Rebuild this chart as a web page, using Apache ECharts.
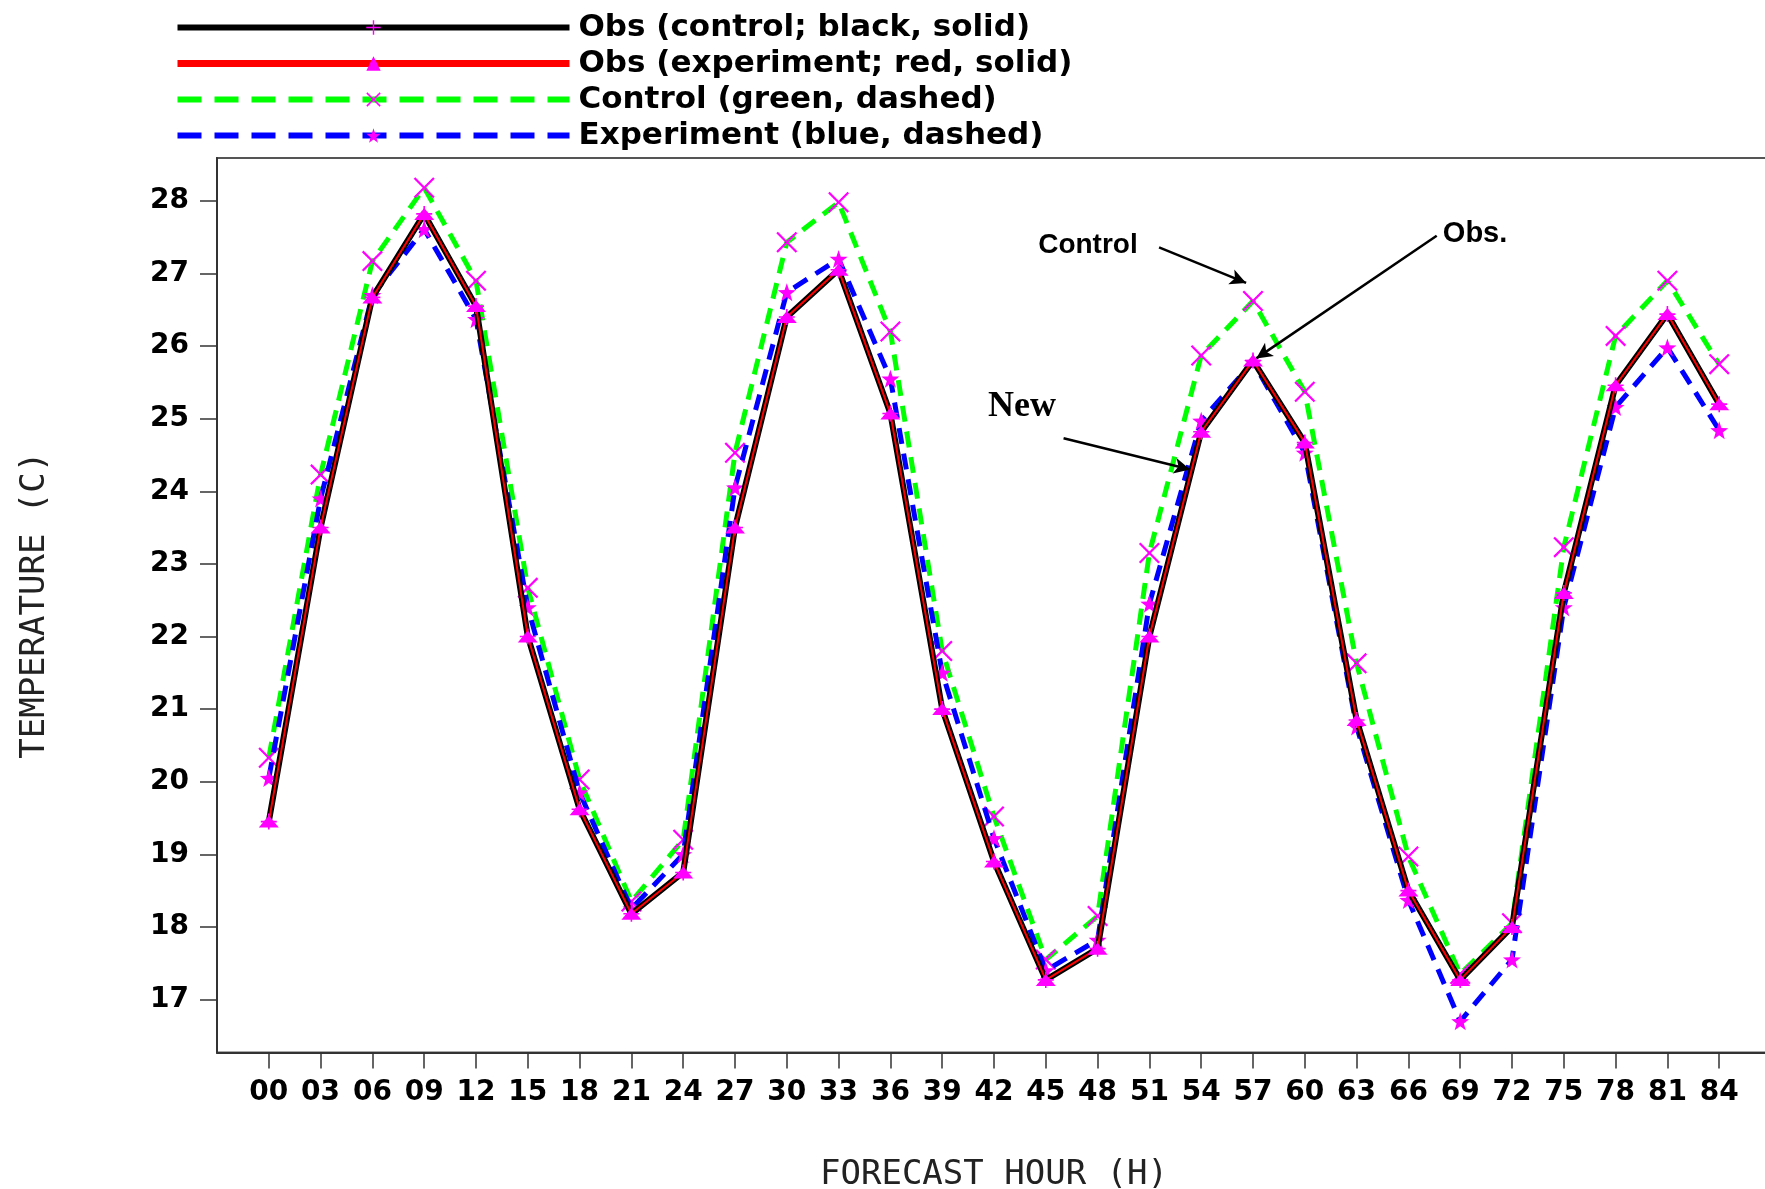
<!DOCTYPE html>
<html><head><meta charset="utf-8">
<script src="https://cdn.jsdelivr.net/npm/echarts@6/dist/echarts.min.js"></script>
<style>html,body{margin:0;padding:0;background:#fff}#c{width:1765px;height:1189px}</style>
</head><body><div id="c"></div>
<script>
// ---- data ----
const hours = [0,3,6,9,12,15,18,21,24,27,30,33,36,39,42,45,48,51,54,57,60,63,66,69,72,75,78,81,84];
const hourLabels = ['00','03','06','09','12','15','18','21','24','27','30','33','36','39','42','45','48','51','54','57','60','63','66','69','72','75','78','81','84'];
const yTicks = [17,18,19,20,21,22,23,24,25,26,27,28];
const obsControl = [19.45,23.5,26.67,27.82,26.55,22.0,19.62,18.18,18.75,23.5,26.4,27.05,25.07,21.0,18.9,17.27,17.7,22.0,24.82,25.8,24.67,20.85,18.5,17.27,18.0,22.6,25.46,26.44,25.2];
const obsExperiment = [19.45,23.5,26.67,27.82,26.55,22.0,19.62,18.18,18.75,23.5,26.4,27.05,25.07,21.0,18.9,17.27,17.7,22.0,24.82,25.8,24.67,20.85,18.5,17.27,18.0,22.6,25.46,26.44,25.2];
const control = [20.33,24.23,27.17,28.18,26.9,22.67,20.03,18.35,19.2,24.53,27.43,27.98,26.2,21.8,19.52,17.55,18.15,23.15,25.87,26.62,25.37,21.63,18.97,17.35,18.05,23.23,26.14,26.9,25.75];
const experiment = [20.05,23.9,26.7,27.61,26.37,22.4,19.85,18.25,19.0,24.05,26.74,27.2,25.55,21.5,19.22,17.4,17.82,22.45,24.97,25.78,24.53,20.76,18.37,16.7,17.55,22.4,25.16,25.98,24.84];
const seriesNames = ['Obs (control; black, solid)','Obs (experiment; red, solid)','Control (green, dashed)','Experiment (blue, dashed)'];
// annotations (data coordinates)
const annoTexts = [
  {text:'Control', at:[47.44,27.39], font:'Liberation Sans', size:28},
  {text:'New', at:[43.62,25.16], font:'Liberation Serif', size:36},
  {text:'Obs.', at:[69.86,27.54], font:'Liberation Sans', size:29}
];
const annoArrows = [
  [[51.56,27.36],[56.6,26.87]],
  [[46.03,24.73],[53.36,24.30]],
  [[67.64,27.52],[57.19,25.83]]
];

const pair = arr => hours.map((h,i)=>[h,arr[i]]);
const MAG = '#ff00ff';
const SYM_PLUS = 'path://M9,0H11V9H20V11H11V20H9V11H0V9H9Z';
const SYM_X = 'path://M0,1.5L1.5,0L10,8.5L18.5,0L20,1.5L11.5,10L20,18.5L18.5,20L10,11.5L1.5,20L0,18.5L8.5,10Z';
const SYM_STAR = 'path://M10,0L12.35,6.76L19.51,6.91L13.8,11.24L15.88,18.09L10,14L4.12,18.09L6.2,11.24L0.49,6.91L7.65,6.76Z';

const chart = echarts.init(document.getElementById('c'), null, {renderer:'canvas'});
const axisNameStyle = {fontFamily:'DejaVu Sans Mono', fontSize:34, color:'#222', fontWeight:'normal'};

chart.setOption({
  animation:false,
  backgroundColor:'#fff',
  grid:{left:217, right:-6, top:158, bottom:136.5, show:true, borderColor:'#555', borderWidth:2, containLabel:false, outerBoundsMode:'none'},
  legend:{
    data:[
      {name:seriesNames[0], lineStyle:{width:6, color:'#000', type:'solid'}},
      {name:seriesNames[1], lineStyle:{width:7, color:'#ff0000', type:'solid'}},
      {name:seriesNames[2], lineStyle:{width:6, color:'#00ff00', type:[24,13]}},
      {name:seriesNames[3], lineStyle:{width:6, color:'#0000ff', type:[24,13]}}
    ],
    orient:'vertical', left:174, top:12, padding:0,
    itemWidth:392, itemHeight:18, itemGap:5,
    textStyle:{fontFamily:'DejaVu Sans', fontWeight:'bold', fontSize:31, color:'#000', lineHeight:30, padding:[0,0,0,4]},
    selectedMode:false
  },
  xAxis:{
    type:'value', min:-3, max:87,
    axisLine:{show:true, onZero:false, lineStyle:{color:'#333', width:2}},
    axisTick:{show:true, customValues:hours, length:16, lineStyle:{color:'#333', width:1.5}},
    axisLabel:{customValues:hours, formatter:v=>hourLabels[hours.indexOf(v)], margin:26,
      fontFamily:'DejaVu Sans', fontWeight:'bold', fontSize:28, color:'#000'},
    splitLine:{show:false},
    name:'FORECAST HOUR (H)', nameLocation:'middle', nameGap:106, nameTextStyle:axisNameStyle
  },
  yAxis:{
    type:'value', min:16.27, max:28.59,
    axisLine:{show:true, onZero:false, lineStyle:{color:'#333', width:2}},
    axisTick:{show:true, customValues:yTicks, length:17, lineStyle:{color:'#333', width:1.5}},
    axisLabel:{customValues:yTicks, margin:28, fontFamily:'DejaVu Sans', fontWeight:'bold', fontSize:28, color:'#000'},
    splitLine:{show:false},
    name:'TEMPERATURE (C)', nameLocation:'middle', nameRotate:90, nameGap:165, nameTextStyle:axisNameStyle
  },
  series:[
    {name:seriesNames[2], type:'line', data:pair(control), z:2,
      lineStyle:{color:'#00ff00', width:5, type:[16,10]},
      itemStyle:{color:MAG}, symbol:SYM_X, symbolSize:21, showAllSymbol:true},
    {name:seriesNames[3], type:'line', data:pair(experiment), z:3,
      lineStyle:{color:'#0000ff', width:5, type:[16,10]},
      itemStyle:{color:MAG}, symbol:SYM_STAR, symbolSize:18, showAllSymbol:true},
    {name:seriesNames[0], type:'line', data:pair(obsControl), z:4,
      lineStyle:{color:'#000000', width:6},
      itemStyle:{color:MAG}, symbol:SYM_PLUS, symbolSize:16, showAllSymbol:true},
    {name:seriesNames[1], type:'line', data:pair(obsExperiment), z:5,
      lineStyle:{color:'#ff0000', width:2},
      itemStyle:{color:MAG}, symbol:'triangle', symbolSize:[20,12], showAllSymbol:true,
      markLine:{silent:true, symbol:['none','arrow'], symbolSize:[12,16], animation:false,
        lineStyle:{color:'#000', width:2.5, type:'solid'}, label:{show:false},
        data:annoArrows.map(a=>[{coord:a[0]},{coord:a[1]}])},
      markPoint:{silent:true, symbol:'rect', symbolSize:1, itemStyle:{color:'rgba(0,0,0,0)'}, animation:false,
        data:annoTexts.map(t=>({name:t.text, coord:t.at,
          label:{show:true, position:'inside', formatter:t.text, color:'#000', fontFamily:t.font, fontWeight:'bold', fontSize:t.size}}))}
    }
  ]
});
</script></body></html>
